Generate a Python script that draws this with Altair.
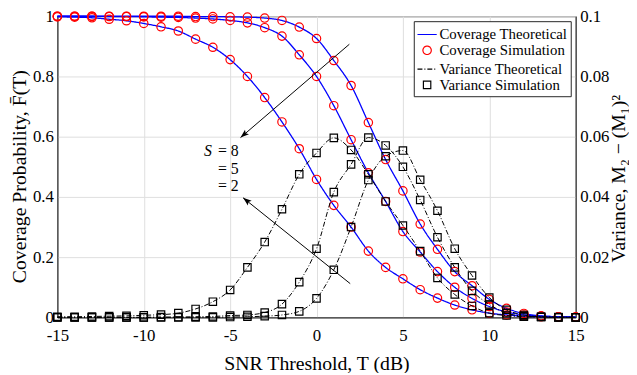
import math
import altair as alt
import pandas as pd

# ---------------- data ----------------
snr = list(range(-15, 16))

cov_s2 = [0.998, 0.997, 0.995, 0.990, 0.985, 0.976, 0.965, 0.951, 0.924, 0.897,
          0.856, 0.800, 0.730, 0.649, 0.560, 0.458, 0.372, 0.300, 0.220, 0.166,
          0.128, 0.092, 0.064, 0.041, 0.025, 0.014, 0.008, 0.004, 0.002, 0.001, 0.0005]
cov_s5 = [1.000, 1.000, 1.000, 0.999, 0.999, 0.998, 0.997, 0.996, 0.994, 0.991,
          0.986, 0.978, 0.962, 0.934, 0.872, 0.800, 0.703, 0.590, 0.480, 0.385,
          0.285, 0.217, 0.152, 0.100, 0.063, 0.036, 0.018, 0.008, 0.004, 0.002, 0.001]
cov_s8 = [1.000, 1.000, 1.000, 1.000, 1.000, 1.000, 1.000, 1.000, 0.999, 0.999,
          0.998, 0.997, 0.994, 0.986, 0.964, 0.926, 0.853, 0.770, 0.647, 0.524,
          0.420, 0.310, 0.226, 0.152, 0.105, 0.060, 0.030, 0.013, 0.005, 0.002, 0.001]

var_s2 = [0.0002, 0.0002, 0.0003, 0.0004, 0.0005, 0.0007, 0.0009, 0.0014, 0.0028, 0.0052,
          0.0091, 0.0166, 0.0250, 0.0359, 0.0475, 0.0546, 0.0596, 0.0556, 0.0475, 0.0385,
          0.0305, 0.0220, 0.0131, 0.0076, 0.0038, 0.0014, 0.0006, 0.0002, 0.0001, 0.0, 0.0]
var_s5 = [0.0, 0.0, 0.0, 0.0, 0.0, 0.0, 0.0001, 0.0001, 0.0002, 0.0003,
          0.0006, 0.0008, 0.0016, 0.0044, 0.0117, 0.0228, 0.0416, 0.0508, 0.0597, 0.0571,
          0.0500, 0.0390, 0.0266, 0.0166, 0.0088, 0.0043, 0.0014, 0.0004, 0.0001, 0.0, 0.0]
var_s8 = [0.0, 0.0, 0.0, 0.0, 0.0, 0.0, 0.0, 0.0, 0.0, 0.0,
          0.0001, 0.0002, 0.0004, 0.0008, 0.0020, 0.0063, 0.0158, 0.0300, 0.0456, 0.0535,
          0.0554, 0.0457, 0.0354, 0.0228, 0.0139, 0.0066, 0.0025, 0.0008, 0.0002, 0.0001, 0.0]

series_S = ["2", "5", "8"]
legend_labels = ["Coverage Theoretical", "Coverage Simulation",
                 "Variance Theoretical", "Variance Simulation"]

x_ticks = [-15, -10, -5, 0, 5, 10, 15]
left_ticks = [0, 0.2, 0.4, 0.6, 0.8, 1]
right_ticks = [0, 0.02, 0.04, 0.06, 0.08, 0.1]

# annotation: arrows (tail -> head) in data coordinates of the left axis
arrow_tail_x = [1.9, 1.95]
arrow_tail_y = [0.907, 0.112]
arrow_head_x = [-4.4, -4.25]
arrow_head_y = [0.597, 0.397]
note_x = [-4.5, -4.5, -4.5]
note_y = [0.535, 0.477, 0.421]
note_text = ["= 8", "= 5", "= 2"]
s_x = [-6.05]
s_y = [0.535]

# ---------------- tables ----------------
cov_rows, var_rows = [], []
for s, c, v in zip(series_S, [cov_s2, cov_s5, cov_s8], [var_s2, var_s5, var_s8]):
    for xv, cv, vv in zip(snr, c, v):
        cov_rows.append({"x": xv, "cov": cv, "S": s})
        var_rows.append({"x": xv, "var": vv, "S": s})
cov_df = pd.DataFrame(cov_rows)
var_df = pd.DataFrame(var_rows)

W, H = 525, 305
px_x = W / 30.0
px_y = H / 1.0
arrow_df = pd.DataFrame({
    "ax": arrow_tail_x, "ay": arrow_tail_y,
    "ax2": arrow_head_x, "ay2": arrow_head_y,
})
arrow_df["ang"] = [
    (math.degrees(math.atan2((hx - tx) * px_x, (hy - ty) * px_y)) + 360) % 360
    for tx, ty, hx, hy in zip(arrow_tail_x, arrow_tail_y, arrow_head_x, arrow_head_y)
]
note_df = pd.DataFrame({"tx": note_x, "ty": note_y, "t": note_text})
s_df = pd.DataFrame({"tx": s_x, "ty": s_y, "t": ["S"]})

FONT = "Liberation Serif"
AXC = "#262626"
GRID = "#dedede"

color_scale = alt.Scale(domain=legend_labels, range=["#0000ff", "#ff0000", "#000000", "#000000"])
shape_scale = alt.Scale(domain=legend_labels, range=["stroke", "circle", "stroke", "square"])
dash_scale = alt.Scale(domain=legend_labels, range=[[1, 0], [1, 0], [5, 2, 1, 2], [1, 0]])
size_scale = alt.Scale(type="ordinal", domain=legend_labels, range=[380, 72, 380, 56])

leg = alt.Legend(title=None, orient="top-right", offset=5, fillColor="white",
                 strokeColor=AXC, padding=3, labelFont=FONT, labelFontSize=15,
                 labelColor="black", rowPadding=0, symbolStrokeWidth=1.2,
                 labelOffset=2, labelLimit=300)

xs = alt.Scale(domain=[-15, 15], nice=False, zero=False)
ysl = alt.Scale(domain=[0, 1], nice=False, zero=False)
ysr = alt.Scale(domain=[0, 0.1], nice=False, zero=False)

x_enc = alt.X("x:Q", scale=xs,
              axis=alt.Axis(values=x_ticks, labelExpr="'' + datum.value",
                            title="SNR Threshold, T (dB)", grid=True, ticks=False,
                            labelFlush=False, labelPadding=10, titlePadding=11))
y_left = alt.Y("cov:Q", scale=ysl,
               axis=alt.Axis(values=left_ticks, labelExpr="'' + datum.value",
                             title="Coverage Probability, F\u0304(T)", grid=True,
                             ticks=False, labelFlush=False, labelPadding=4,
                             titlePadding=3, titleY=162))
y_right = alt.Y("var:Q", scale=ysr,
                axis=alt.Axis(orient="right", values=right_ticks, labelExpr="'' + datum.value",
                              title="Variance, M\u2082 \u2212 (M\u2081)\u00b2", grid=False,
                              ticks=False, labelFlush=False, labelPadding=4, titlePadding=0,
                              titleAngle=270, titleBaseline="top", titleY=164))

cov_line = alt.Chart(cov_df).transform_calculate(leg="'Coverage Theoretical'").mark_line(
    interpolate="monotone", strokeWidth=1.3).encode(
    x=x_enc, y=y_left, detail="S:N",
    color=alt.Color("leg:N", scale=color_scale, legend=leg),
    strokeDash=alt.StrokeDash("leg:N", scale=dash_scale, legend=leg))

cov_pts = alt.Chart(cov_df).transform_calculate(leg="'Coverage Simulation'").mark_point(
    filled=False, strokeWidth=1.2, opacity=1).encode(
    x=x_enc, y=y_left,
    color=alt.Color("leg:N", scale=color_scale, legend=leg),
    shape=alt.Shape("leg:N", scale=shape_scale, legend=leg),
    size=alt.Size("leg:N", scale=size_scale, legend=leg))

arrows = alt.Chart(arrow_df).mark_rule(color="black", strokeWidth=1).encode(
    x=alt.X("ax:Q", scale=xs), y=alt.Y("ay:Q", scale=ysl), x2="ax2:Q", y2="ay2:Q")
heads = alt.Chart(arrow_df).mark_point(
    shape="M0,0L0.36,1L0,0.8L-0.36,1Z", filled=True, color="black", opacity=1,
    size=300, strokeWidth=0).encode(
    x=alt.X("ax2:Q", scale=xs), y=alt.Y("ay2:Q", scale=ysl),
    angle=alt.Angle("ang:Q", scale=None))
notes = alt.Chart(note_df).mark_text(align="right", baseline="alphabetic", font=FONT,
                                     fontSize=16, color="black").encode(
    x=alt.X("tx:Q", scale=xs), y=alt.Y("ty:Q", scale=ysl), text="t:N")
s_note = alt.Chart(s_df).mark_text(align="right", baseline="alphabetic", font=FONT,
                                   fontSize=16, fontStyle="italic", color="black").encode(
    x=alt.X("tx:Q", scale=xs), y=alt.Y("ty:Q", scale=ysl), text="t:N")

left = alt.layer(cov_line, cov_pts, arrows, heads, notes, s_note)

var_line = alt.Chart(var_df).transform_calculate(leg="'Variance Theoretical'").mark_line(
    interpolate="monotone", strokeWidth=1).encode(
    x=x_enc, y=y_right, detail="S:N",
    color=alt.Color("leg:N", scale=color_scale, legend=leg),
    strokeDash=alt.StrokeDash("leg:N", scale=dash_scale, legend=leg))

var_pts = alt.Chart(var_df).transform_calculate(leg="'Variance Simulation'").mark_point(
    filled=False, strokeWidth=1.2, opacity=1).encode(
    x=x_enc, y=y_right,
    color=alt.Color("leg:N", scale=color_scale, legend=leg),
    shape=alt.Shape("leg:N", scale=shape_scale, legend=leg),
    size=alt.Size("leg:N", scale=size_scale, legend=leg))

right = alt.layer(var_line, var_pts)

chart = alt.layer(left, right).resolve_scale(y="independent").properties(
    width=W, height=H,
    autosize=alt.AutoSizeParams(type="none"),
    padding={"left": 50, "top": 6, "right": 54, "bottom": 54},
).configure_view(stroke=AXC, strokeWidth=1).configure_axis(
    labelFont=FONT, labelFontSize=17, labelColor="black",
    titleFont=FONT, titleFontSize=20, titleFontWeight="normal", titleColor="black",
    domainColor=AXC, domainWidth=1, gridColor=GRID, gridWidth=1,
)

chart.save("out.html", embed_options={"renderer": "svg", "actions": False})
